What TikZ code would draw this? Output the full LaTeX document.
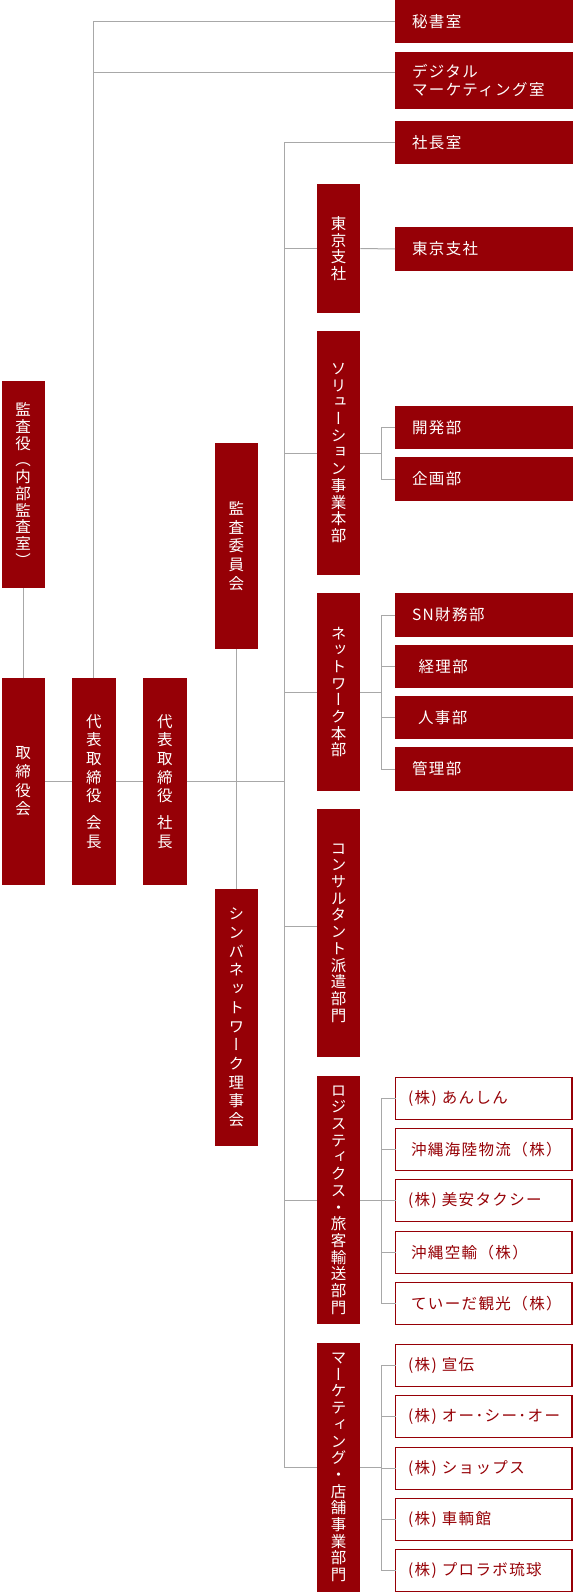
\documentclass[tikz,border=0pt]{standalone}
\usepackage{fontspec}
\newfontfamily\jp[LetterSpace=9]{Noto Sans CJK JP}
\newfontfamily\vjp[RawFeature=+vert]{Noto Sans CJK JP}
\definecolor{brand}{RGB}{150,0,6}
\definecolor{conn}{RGB}{168,168,168}
\tikzset{
  hbox/.style={fill=brand, text=white, anchor=north west, outer sep=0pt,
    inner xsep=17pt, inner ysep=0pt, text width=144pt, align=left,
    font=\fontsize{15.5}{18.5}\selectfont\jp},
  obox/.style={draw=brand, line width=1.2pt, fill=white, text=brand, anchor=north west,
    outer sep=0pt, inner xsep=15.4pt, inner ysep=0pt, text width=145.6pt, align=left,
    minimum height=41.5pt, font=\fontsize{15.5}{18.5}\selectfont\jp},
  vbox/.style={fill=brand, text=white, anchor=north west, outer sep=0pt,
    minimum width=43.5pt, inner sep=0pt, align=center,
    font=\fontsize{15.5}{16.7}\selectfont\vjp},
  vboxwide/.style={vbox, font=\fontsize{15.5}{18.7}\selectfont\vjp},
  link/.style={draw=conn, line width=1pt},
}
\begin{document}
\begin{tikzpicture}[x=1pt,y=-1pt]
\useasboundingbox (0,0) rectangle (573,1592);
% ---------- right filled boxes
\node[hbox, minimum height=43pt] (hisho) at (395,0) {秘書室};
\node[hbox, minimum height=57pt] (digital) at (395,52) {デジタル\\マーケティング室};
\node[hbox, minimum height=43pt] (shachoshitsu) at (395,121) {社長室};
\node[hbox, minimum height=44pt] (tokyoH) at (395,227) {東京支社};
\node[hbox, minimum height=43pt] (kaihatsu) at (395,406) {開発部};
\node[hbox, minimum height=44pt] (kikaku) at (395,457) {企画部};
\node[hbox, minimum height=44pt] (sn) at (395,593) {SN財務部};
\node[hbox, minimum height=43pt] (keiri) at (395,645) {\hspace*{6.5pt}経理部};
\node[hbox, minimum height=43pt] (jinji) at (395,696) {\hspace*{6pt}人事部};
\node[hbox, minimum height=44pt] (kanri) at (395,747) {管理部};
% ---------- right outlined boxes
\node[obox] (anshin) at (395.6,1077.6) {\hspace*{-3pt}(株)\hspace{5pt}あんしん};
\node[obox] (kairiku) at (395.6,1128.6) {沖縄海陸物流（株）};
\node[obox] (biyasu) at (395.6,1179.6) {\hspace*{-3pt}(株)\hspace{5pt}美安タクシー};
\node[obox] (kuyu) at (395.6,1231.6) {沖縄空輸（株）};
\node[obox] (tiida) at (395.6,1282.6) {ていーだ観光（株）};
\node[obox] (senden) at (395.6,1344.6) {\hspace*{-3pt}(株)\hspace{5pt}宣伝};
\node[obox] (oco) at (395.6,1395.6) {\hspace*{-3pt}(株)\hspace{5pt}オー･シー･オー};
\node[obox] (shops) at (395.6,1447.6) {\hspace*{-3pt}(株)\hspace{5pt}ショップス};
\node[obox] (sharyo) at (395.6,1498.6) {\hspace*{-3pt}(株)\hspace{5pt}車輌館};
\node[obox] (prolab) at (395.6,1549.6) {\hspace*{-3pt}(株)\hspace{5pt}プロラボ琉球};
% ---------- right column vertical boxes
\node[vbox, minimum height=129pt] (tokyoV) at (316.8,184) {東\\京\\支\\社};
\node[vbox, minimum height=244pt] (solution) at (316.8,331) {ソ\\リ\\ュ\\ー\\シ\\ョ\\ン\\事\\業\\本\\部};
\node[vbox, minimum height=198pt] (network) at (316.8,593) {ネ\\ッ\\ト\\ワ\\ー\\ク\\本\\部};
\node[vbox, minimum height=248pt] (consult) at (316.8,809) {コ\\ン\\サ\\ル\\タ\\ン\\ト\\派\\遣\\部\\門};
\node[vbox, minimum height=248pt] (logistics) at (316.8,1076) {ロ\\ジ\\ス\\テ\\ィ\\ク\\ス\\・\\旅\\客\\輸\\送\\部\\門};
\node[vbox, minimum height=249pt] (marketing) at (316.8,1343) {マ\\ー\\ケ\\テ\\ィ\\ン\\グ\\・\\店\\舗\\事\\業\\部\\門};
% ---------- left boxes
\node[vbox, minimum height=207pt] (kansayaku) at (1.5,381) {監\\査\\役\\（\\内\\部\\監\\査\\室\\）};
\node[vboxwide, minimum height=207pt] (torishimari) at (1.5,678) {取\\締\\役\\会};
\node[vboxwide, minimum height=207pt] (kaicho) at (72,678) {代\\表\\取\\締\\役\\[8pt]会\\長};
\node[vboxwide, minimum height=207pt] (shacho) at (143,678) {代\\表\\取\\締\\役\\[8pt]社\\長};
\node[vboxwide, minimum height=206pt] (kansaiin) at (214.5,443) {監\\査\\委\\員\\会};
\node[vboxwide, minimum height=257pt] (simba) at (214.5,889) {シ\\ン\\バ\\ネ\\ッ\\ト\\ワ\\ー\\ク\\理\\事\\会};
% ---------- connectors
\coordinate (tx) at (284.3,0);
\coordinate (sx) at (381,0);
\coordinate (dg) at ([yshift=7.5pt]digital.west);
\coordinate (cw) at ([yshift=7pt]consult.west);
\draw[link] (kansayaku.south) -- (torishimari.north);
\draw[link] (torishimari.east) -- (kaicho.west);
\draw[link] (kaicho.east) -- (shacho.west);
\draw[link] (shacho.east) -- (shacho.east -| tx);
\draw[link] (kaicho.north) |- (hisho.west);
\draw[link] (kaicho.north |- dg) -- (dg);
\draw[link] (kansaiin.south) -- (simba.north);
\draw[link] (shachoshitsu.west) -| (tx |- marketing.west) -- (marketing.west);
\foreach \n in {tokyoV,solution,network,logistics}
  \draw[link] (\n.west -| tx) -- (\n.west);
\draw[link] (cw -| tx) -- (cw);
\draw[link] (tokyoV.east) -- (tokyoH.west);
% solution
\draw[link] (solution.east) -- (solution.east -| sx);
\draw[link] (kaihatsu.west) -| (sx |- kikaku.west) -- (kikaku.west);
% network
\draw[link] (network.east) -- (network.east -| sx);
\draw[link] (sn.west) -| (sx |- kanri.west) -- (kanri.west);
\foreach \n in {keiri,jinji}
  \draw[link] (\n.west -| sx) -- (\n.west);
% logistics
\draw[link] (logistics.east) -- (logistics.east -| sx);
\draw[link] (anshin.west) -| (sx |- tiida.west) -- (tiida.west);
\foreach \n in {kairiku,biyasu,kuyu}
  \draw[link] (\n.west -| sx) -- (\n.west);
% marketing
\draw[link] (marketing.east) -- (marketing.east -| sx);
\draw[link] (senden.west) -| (sx |- prolab.west) -- (prolab.west);
\foreach \n in {oco,shops,sharyo}
  \draw[link] (\n.west -| sx) -- (\n.west);
\end{tikzpicture}
\end{document}
